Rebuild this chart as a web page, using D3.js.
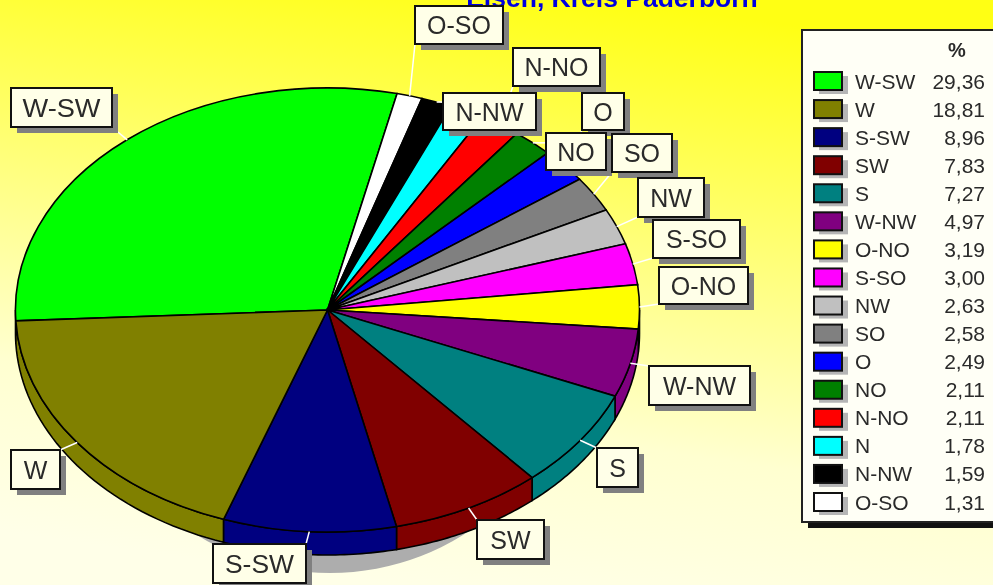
<!DOCTYPE html>
<html>
<head>
<meta charset="utf-8">
<script src="https://cdn.jsdelivr.net/npm/d3@7"></script>
<style>
  html, body { margin: 0; padding: 0; background: #ffffe6; }
  svg { display: block; filter: blur(0.4px); }
  text { font-family: "Liberation Sans", Arial, sans-serif; fill: #2a2a2a; }
</style>
</head>
<body>
<div id="chart"></div>
<script>
// pie order, clockwise from the left edge
const directions = ["W-SW", "O-SO", "N-NW", "N", "N-NO", "NO", "O", "SO", "NW", "S-SO", "O-NO", "W-NW", "S", "SW", "S-SW", "W"];
const shares = [29.36, 1.31, 1.59, 1.78, 2.11, 2.11, 2.49, 2.58, 2.63, 3.00, 3.19, 4.97, 7.27, 7.83, 8.96, 18.81];
const sliceColors = ["#00ff00", "#ffffff", "#000000", "#00ffff", "#ff0000", "#008000", "#0000ff", "#808080", "#c0c0c0", "#ff00ff", "#ffff00", "#800080", "#008080", "#800000", "#000080", "#808000"];
// legend rows are sorted by share
const legendOrder = ["W-SW", "W", "S-SW", "SW", "S", "W-NW", "O-NO", "S-SO", "NW", "SO", "O", "NO", "N-NO", "N", "N-NW", "O-SO"];
const titleText = "Elsen, Kreis Paderborn";

// label box left/top/width/height, picked by eye from the reference
const labelBoxes = {
  "W-SW": [11, 88, 101, 39], "O-SO": [415, 6, 88, 38], "N-NW": [443, 93, 93, 37], "N": [443, 93, 93, 37],
  "N-NO": [513, 48, 87, 38], "NO": [546, 133, 60, 37], "O": [582, 93, 42, 37], "SO": [612, 134, 60, 38],
  "NW": [638, 178, 66, 39], "S-SO": [653, 220, 87, 38], "O-NO": [659, 267, 89, 37], "W-NW": [649, 366, 101, 39],
  "S": [597, 448, 41, 39], "SW": [477, 520, 67, 39], "S-SW": [213, 544, 93, 39], "W": [11, 450, 49, 39]
};
// N sits hidden behind N-NW in the original
const labelOrder = ["W-SW", "O-SO", "N-NO", "O", "N-NW", "NO", "SO", "NW", "S-SO", "O-NO", "W-NW", "S", "SW", "S-SW", "W"];
// the old bitmap font runs a bit wide on these two
const labelTextWidths = { "W-SW": 78, "S-SW": 69 };

const width = 993, height = 585;
const cx = 327.5, cy = 310, rx = 312, ry = 222, depth = 23;
const startAngle = -92.8 * Math.PI / 180;

const svg = d3.select("#chart").append("svg")
  .attr("width", width).attr("height", height);

const defs = svg.append("defs");
const bg = defs.append("linearGradient").attr("id", "bg")
  .attr("x1", "0.62").attr("y1", "0").attr("x2", "0.38").attr("y2", "1");
bg.append("stop").attr("offset", "0").attr("stop-color", "#ffff14");
bg.append("stop").attr("offset", "0.72").attr("stop-color", "#ffffd0");
bg.append("stop").attr("offset", "1").attr("stop-color", "#ffffe8");
svg.append("rect").attr("width", width).attr("height", height).attr("fill", "url(#bg)");

svg.append("text").attr("x", 612).attr("y", 7)
  .attr("text-anchor", "middle")
  .attr("font-size", 26.5).attr("font-weight", "bold")
  .style("fill", "#0000e0").text(titleText);

const pie = d3.pie().sort(null).value(d => d.share)
  .startAngle(startAngle).endAngle(startAngle + 2 * Math.PI);
const slices = pie(directions.map((name, i) => ({ name, share: shares[i], color: sliceColors[i] })));

const px = a => cx + rx * Math.sin(a);
const py = a => cy - ry * Math.cos(a);

// gray drop shadow under the disc
svg.append("ellipse")
  .attr("cx", 330).attr("cy", 351)
  .attr("rx", 238).attr("ry", ry)
  .attr("fill", "#adadad");

// side wall, only the front half of the rim is visible
function wallPath (s) {
  const a0 = s.startAngle < -Math.PI / 2 ? s.startAngle : Math.max(s.startAngle, Math.PI / 2);
  const a1 = s.startAngle < -Math.PI / 2 ? Math.min(s.endAngle, -Math.PI / 2) : Math.min(s.endAngle, 3 * Math.PI / 2);
  if (a1 <= a0) return null;
  const steps = d3.range(0, 41).map(i => a0 + (a1 - a0) * i / 40);
  const top = steps.map(a => [px(a), py(a)]);
  const bottom = steps.slice().reverse().map(a => [px(a), py(a) + depth]);
  return d3.line()(top.concat(bottom)) + "Z";
}

svg.append("g").selectAll("path")
  .data(slices.filter(s => wallPath(s)))
  .join("path")
  .attr("d", wallPath)
  .attr("fill", d => d.data.color)
  .attr("stroke", "#000").attr("stroke-width", 1.6);

// top of the disc, a unit arc squashed to the ellipse
const arc = d3.arc().innerRadius(0).outerRadius(1);
svg.append("g")
  .attr("transform", `translate(${cx},${cy}) scale(${rx},${ry})`)
  .selectAll("path")
  .data(slices)
  .join("path")
  .attr("d", arc)
  .attr("fill", d => d.data.color)
  .attr("stroke", "#000").attr("stroke-width", 1.6)
  .attr("vector-effect", "non-scaling-stroke");

// white leader lines from the rim to the nearest point of the box
const clamp = (v, lo, hi) => Math.max(lo, Math.min(hi, v));
const leaders = svg.append("g");
slices.forEach(s => {
  const mid = (s.startAngle + s.endAngle) / 2;
  const b = labelBoxes[s.data.name];
  leaders.append("line")
    .attr("x1", px(mid)).attr("y1", py(mid))
    .attr("x2", clamp(px(mid), b[0], b[0] + b[2]))
    .attr("y2", clamp(py(mid), b[1], b[1] + b[3]))
    .attr("stroke", "#fff").attr("stroke-width", 1.5);
});

// label boxes
const labels = svg.append("g").selectAll("g").data(labelOrder).join("g")
  .attr("transform", d => `translate(${labelBoxes[d][0]},${labelBoxes[d][1]})`);
labels.append("rect").attr("x", 6).attr("y", 6)
  .attr("width", d => labelBoxes[d][2]).attr("height", d => labelBoxes[d][3])
  .attr("fill", "#808080");
labels.append("rect")
  .attr("width", d => labelBoxes[d][2]).attr("height", d => labelBoxes[d][3])
  .attr("fill", "#ffffe8").attr("stroke", "#111").attr("stroke-width", 2);
labels.append("text")
  .attr("x", d => labelBoxes[d][2] / 2).attr("y", d => labelBoxes[d][3] / 2 + 9)
  .attr("text-anchor", "middle").attr("font-size", 25)
  .attr("textLength", d => labelTextWidths[d] || null)
  .attr("lengthAdjust", "spacingAndGlyphs")
  .text(d => d);

// legend
const legendX = 802, legendY = 30, legendW = 198, legendH = 492;
svg.append("rect").attr("x", legendX + 6).attr("y", legendY + 6)
  .attr("width", legendW).attr("height", legendH).attr("fill", "#111");
svg.append("rect").attr("x", legendX).attr("y", legendY)
  .attr("width", legendW).attr("height", legendH)
  .attr("fill", "#fffff6").attr("stroke", "#222").attr("stroke-width", 2);
svg.append("text").attr("x", 957).attr("y", 57)
  .attr("text-anchor", "middle").attr("font-size", 20).attr("font-weight", "bold").text("%");

const rowY = d3.scalePoint().domain(legendOrder).range([81, 502]);
const rows = svg.append("g").selectAll("g").data(legendOrder).join("g")
  .attr("transform", d => `translate(0,${rowY(d)})`);
rows.append("rect").attr("x", 819).attr("y", -5).attr("width", 29).attr("height", 18).attr("fill", "#b5b5b5");
rows.append("rect").attr("x", 814).attr("y", -9).attr("width", 28).attr("height", 18)
  .attr("fill", d => sliceColors[directions.indexOf(d)])
  .attr("stroke", "#111").attr("stroke-width", 2);
rows.append("text").attr("x", 855).attr("y", 7.5).attr("font-size", 21).text(d => d);
rows.append("text").attr("x", 985).attr("y", 7.5).attr("text-anchor", "end").attr("font-size", 21)
  .text(d => shares[directions.indexOf(d)].toFixed(2).replace(".", ","));
</script>
</body>
</html>
